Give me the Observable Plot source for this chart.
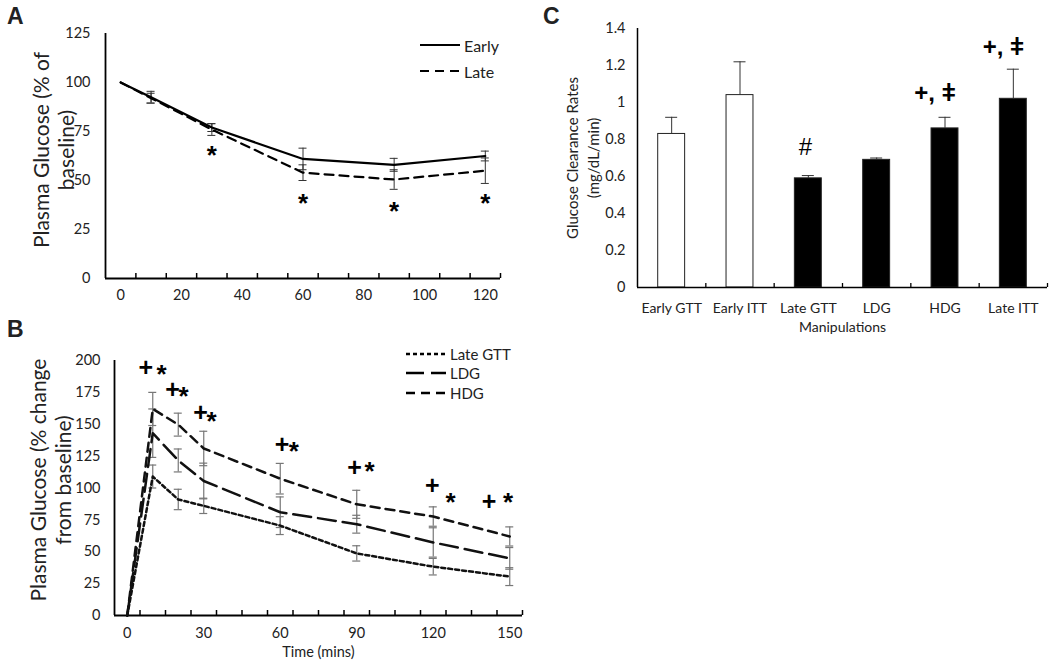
<!DOCTYPE html>
<html><head><meta charset="utf-8">
<script src="https://cdn.jsdelivr.net/npm/d3@7"></script>
<script src="https://cdn.jsdelivr.net/npm/@observablehq/plot@0.6"></script>
<style>
body{margin:0;background:#fff;}
#wrap{position:relative;width:1050px;height:662px;overflow:hidden;font-family:Lato,"Open Sans",sans-serif;color:#222;}
.panel{position:absolute;font-family:"Liberation Sans",Arial,sans-serif;font-weight:bold;font-size:23px;line-height:1;}
.legend{position:absolute;font-size:15px;}
.legend div{display:flex;align-items:center;height:19px;}
.legend svg{margin-right:4px;}
</style></head><body><div id="wrap"></div>
<script>
const FONT = "Lato, 'Open Sans', sans-serif";
const SYM = "'Liberation Sans', Arial, sans-serif";

// ---------- Panel A data ----------
const timesA = [0, 10, 30, 60, 90, 120];
const earlyA = [100, 92.5, 77, 61, 58, 62.5];
const earlyErrA = [0, 3, 2, 5.5, 3.3, 2.5];
const lateA = [100, 92, 76, 54, 50.5, 55];
const lateErrA = [0, 2.5, 3, 4, 5, 6.5];
const starTimesA = [30, 60, 90, 120];
const starYA = [66, 42, 37.5, 42];
const xLabelsA = [0, 20, 40, 60, 80, 100, 120];
const yTicksA = [0, 25, 50, 75, 100, 125];

// ---------- Panel B data ----------
const timesB = [0, 10, 20, 30, 60, 90, 120, 150];
const lateGTT = [0, 109, 91, 86, 70.5, 48.7, 38.3, 30.5];
const lateGTTErr = [0, 9, 8, 6, 7, 6, 6.5, 7];
const ldg = [0, 143, 121.6, 105.5, 81, 71.6, 57.3, 44.8];
const ldgErr = [0, 19, 9, 14, 12, 7, 11.5, 8.5];
const hdg = [0, 162, 149.7, 131, 107.3, 87.2, 77.6, 62];
const hdgErr = [0, 13, 9, 13.5, 12, 11, 7.6, 7.5];
const plusXB = [7.3, 17.8, 28.7, 60.7, 89.1, 119.6, 141.9];
const plusYB = [194.5, 177, 158.8, 133.6, 115.9, 101.6, 89.3];
const starXB = [13.5, 22.1, 33.1, 65.3, 95, 126.8, 149.3];
const starYB = [194, 177, 157.8, 133.6, 118.5, 93.8, 93.8];
const xLabelsB = [0, 30, 60, 90, 120, 150];
const yTicksB = [0, 25, 50, 75, 100, 125, 150, 175, 200];

// ---------- Panel C data ----------
const manipulations = ["Early GTT", "Early ITT", "Late GTT", "LDG", "HDG", "Late ITT"];
const clearance = [0.83, 1.04, 0.59, 0.69, 0.86, 1.02];
const clearanceErr = [0.09, 0.18, 0.015, 0.01, 0.06, 0.16];
const barFill = ["white", "white", "black", "black", "black", "black"];
const annotC = ["", "", "#", "", "+, ǂ", "+, ǂ"];
const annotYC = [0, 0, 0.76, 0, 1.05, 1.3];
const yTicksC = [0, 0.2, 0.4, 0.6, 0.8, 1, 1.2, 1.4];

const wrap = document.getElementById("wrap");
function place(el, left, top) {
  el.style.position = "absolute";
  el.style.left = left + "px";
  el.style.top = top + "px";
  el.style.overflow = "visible";
  wrap.append(el);
}
const baseStyle = {fontFamily: FONT, fontSize: "14px", color: "#222", background: "transparent", overflow: "visible"};

// ---------- Panel A ----------
const rowsA = [];
timesA.forEach((t, i) => {
  rowsA.push({series: "Early", t, v: earlyA[i], e: earlyErrA[i]});
  rowsA.push({series: "Late", t, v: lateA[i], e: lateErrA[i]});
});
const errA = rowsA.filter(d => d.e > 0);
const starsA = starTimesA.map((t, i) => ({t, y: starYA[i]}));
const mA = {top: 33, right: 30, bottom: 42, left: 105};
const HA = 320, WA = 530;
const fhA = HA - mA.top - mA.bottom;
const plotA = Plot.plot({
  width: WA, height: HA,
  marginTop: mA.top, marginRight: mA.right, marginBottom: mA.bottom, marginLeft: mA.left,
  style: baseStyle,
  x: {domain: [-5, 125]},
  y: {domain: [0, 125]},
  marks: [
    Plot.axisX({ticks: xLabelsA, tickSize: 0, tickPadding: 11, label: null, fontSize: 14.5}),
    Plot.axisY({ticks: yTicksA, tickSize: 0, tickPadding: 15, label: null, fontSize: 14.5}),
    Plot.ruleX(d3.range(5, 126, 10), {insetTop: fhA - 5, stroke: "#000", strokeWidth: 1.5}),
    Plot.ruleY([0], {stroke: "#000", strokeWidth: 1.8}),
    Plot.ruleX([-5], {stroke: "#000", strokeWidth: 1.8}),
    Plot.ruleX(errA, {x: "t", y1: d => d.v - d.e, y2: d => d.v + d.e, stroke: "#333", strokeWidth: 1}),
    Plot.ruleY(errA, {y: d => d.v + d.e, x1: "t", x2: "t", insetLeft: -4, insetRight: -4, stroke: "#333", strokeWidth: 1}),
    Plot.ruleY(errA, {y: d => d.v - d.e, x1: "t", x2: "t", insetLeft: -4, insetRight: -4, stroke: "#333", strokeWidth: 1}),
    Plot.line(rowsA.filter(d => d.series === "Early"), {x: "t", y: "v", stroke: "#000", strokeWidth: 2.2}),
    Plot.line(rowsA.filter(d => d.series === "Late"), {x: "t", y: "v", stroke: "#000", strokeWidth: 2.2, strokeDasharray: "9,6"}),
    Plot.text(starsA, {x: "t", y: "y", text: () => "*", fontFamily: SYM, fontWeight: "bold", fontSize: 26, dy: 7, fill: "#000"}),
    Plot.text(["Plasma Glucose (% of\nbaseline)"], {frameAnchor: "left", textAnchor: "middle", rotate: -90, text: d => d, fontSize: 21, lineHeight: 1.2, dx: -52, dy: -6, fill: "#222"})
  ]
});
place(plotA, 0, 0);

// ---------- Panel B ----------
const seriesB = [
  {name: "Late GTT", v: lateGTT, e: lateGTTErr, dash: "4,3"},
  {name: "LDG", v: ldg, e: ldgErr, dash: "18,7"},
  {name: "HDG", v: hdg, e: hdgErr, dash: "9,6"}
];
const rowsB = [];
seriesB.forEach(s => timesB.forEach((t, i) => rowsB.push({series: s.name, t, v: s.v[i], e: s.e[i]})));
const errB = rowsB.filter(d => d.e > 0);
const plusB = plusXB.map((x, i) => ({x, y: plusYB[i]}));
const starB = starXB.map((x, i) => ({x, y: starYB[i]}));
const mB = {top: 40, right: 18, bottom: 47, left: 114};
const HB = 342, WB = 540;
const fhB = HB - mB.top - mB.bottom;
const plotB = Plot.plot({
  width: WB, height: HB,
  marginTop: mB.top, marginRight: mB.right, marginBottom: mB.bottom, marginLeft: mB.left,
  style: baseStyle,
  x: {domain: [-5, 155]},
  y: {domain: [0, 200]},
  marks: [
    Plot.axisX({ticks: xLabelsB, tickSize: 0, tickPadding: 12, label: "Time (mins)", labelAnchor: "center", labelArrow: "none", labelOffset: 41, fontSize: 14.5}),
    Plot.axisY({ticks: yTicksB, tickSize: 0, tickPadding: 14, label: null, fontSize: 14.5}),
    Plot.ruleX(d3.range(5, 156, 10), {insetTop: fhB - 5, stroke: "#000", strokeWidth: 1.5}),
    Plot.ruleY([0], {stroke: "#000", strokeWidth: 1.8}),
    Plot.ruleX([-5], {stroke: "#000", strokeWidth: 1.8}),
    Plot.ruleX(errB, {x: "t", y1: d => d.v - d.e, y2: d => d.v + d.e, stroke: "#777", strokeWidth: 1.2}),
    Plot.ruleY(errB, {y: d => d.v + d.e, x1: "t", x2: "t", insetLeft: -4, insetRight: -4, stroke: "#777", strokeWidth: 1.2}),
    Plot.ruleY(errB, {y: d => d.v - d.e, x1: "t", x2: "t", insetLeft: -4, insetRight: -4, stroke: "#777", strokeWidth: 1.2}),
    ...seriesB.map(s => Plot.line(rowsB.filter(d => d.series === s.name), {x: "t", y: "v", stroke: "#111", strokeWidth: 2.5, strokeDasharray: s.dash})),
    Plot.text(plusB, {x: "x", y: "y", text: () => "+", fontFamily: SYM, fontWeight: "bold", fontSize: 25, fill: "#000"}),
    Plot.text(starB, {x: "x", y: "y", text: () => "*", fontFamily: SYM, fontWeight: "bold", fontSize: 26, dy: 7, fill: "#000"}),
    Plot.text(["Plasma Glucose (% change\nfrom baseline)"], {frameAnchor: "left", textAnchor: "middle", rotate: -90, text: d => d, fontSize: 21, lineHeight: 1.2, dx: -64, dy: -8, fill: "#222"})
  ]
});
place(plotB, 0, 320);

// ---------- Panel C ----------
const rowsC = manipulations.map((m, i) => ({i, m, v: clearance[i], e: clearanceErr[i], fill: barFill[i], note: annotC[i], ny: annotYC[i]}));
const mC = {top: 28, right: 3, bottom: 53, left: 97};
const HC = 340, WC = 510;
const fhC = HC - mC.top - mC.bottom;
const plotC = Plot.plot({
  width: WC, height: HC,
  marginTop: mC.top, marginRight: mC.right, marginBottom: mC.bottom, marginLeft: mC.left,
  style: baseStyle,
  x: {domain: [-0.5, manipulations.length - 0.5]},
  y: {domain: [0, 1.4]},
  marks: [
    Plot.axisX({ticks: d3.range(manipulations.length), tickFormat: i => manipulations[i], tickSize: 0, tickPadding: 16, label: "Manipulations", labelAnchor: "center", labelArrow: "none", labelOffset: 44, fontSize: 14}),
    Plot.axisY({ticks: yTicksC, tickFormat: d => String(d), tickSize: 0, tickPadding: 12, label: null, fontSize: 14.5}),
    Plot.rectY(rowsC, {x1: d => d.i - 0.5, x2: d => d.i + 0.5, y1: 0, y2: "v", fill: "fill", stroke: "#222", strokeWidth: 1, insetLeft: 20.7, insetRight: 20.7}),
    Plot.ruleX(d3.range(-0.5, manipulations.length, 1).slice(1), {insetTop: fhC - 4, stroke: "#000", strokeWidth: 1.3}),
    Plot.ruleY([0], {stroke: "#000", strokeWidth: 1.5}),
    Plot.ruleX([-0.5], {stroke: "#000", strokeWidth: 1.5}),
    Plot.ruleX(rowsC, {x: "i", y1: "v", y2: d => d.v + d.e, stroke: "#333", strokeWidth: 1}),
    Plot.ruleY(rowsC, {y: d => d.v + d.e, x1: "i", x2: "i", insetLeft: -6, insetRight: -6, stroke: "#333", strokeWidth: 1}),
    Plot.text(rowsC.filter(d => d.note === "#"), {x: "i", y: "ny", text: "note", fontFamily: SYM, fontSize: 24, fill: "#000", dx: -3}),
    Plot.text(rowsC.filter(d => d.note && d.note !== "#"), {x: "i", y: "ny", text: "note", fontFamily: SYM, fontWeight: "bold", fontSize: 24, fill: "#000", dx: -10}),
    Plot.text(["Glucose Clearance Rates\n(mg/dL/min)"], {frameAnchor: "left", textAnchor: "middle", rotate: -90, text: d => d, fontSize: 15, lineHeight: 1.4, dx: -56, fill: "#222"})
  ]
});
place(plotC, 540, 0);

// ---------- Panel letters ----------
[["A", 7, 5], ["B", 7, 318], ["C", 543, 5]].forEach(([t, x, y]) => {
  const d = document.createElement("div");
  d.className = "panel"; d.textContent = t;
  d.style.left = x + "px"; d.style.top = y + "px";
  wrap.append(d);
});

// ---------- Legends ----------
function legend(items, left, top, lineW, fontSize, rowH) {
  const box = document.createElement("div");
  box.className = "legend";
  box.style.left = left + "px"; box.style.top = top + "px"; box.style.fontSize = fontSize + "px";
  items.forEach(it => {
    const row = document.createElement("div");
    row.style.height = rowH + "px";
    const svg = d3.create("svg").attr("width", lineW).attr("height", 6);
    svg.append("line").attr("x1", 0).attr("x2", lineW).attr("y1", 3).attr("y2", 3)
      .attr("stroke", "#000").attr("stroke-width", it.w).attr("stroke-dasharray", it.dash || null);
    row.append(svg.node());
    const s = document.createElement("span"); s.textContent = it.name;
    row.append(s);
    box.append(row);
  });
  wrap.append(box);
}
legend([{name: "Early", w: 2.2}, {name: "Late", w: 2.2, dash: "9,6"}], 420, 32, 40, 16, 26);
legend(seriesB.map(s => ({name: s.name, w: 2.5, dash: s.dash})), 406, 344, 40, 15, 19.5);
</script></body></html>
